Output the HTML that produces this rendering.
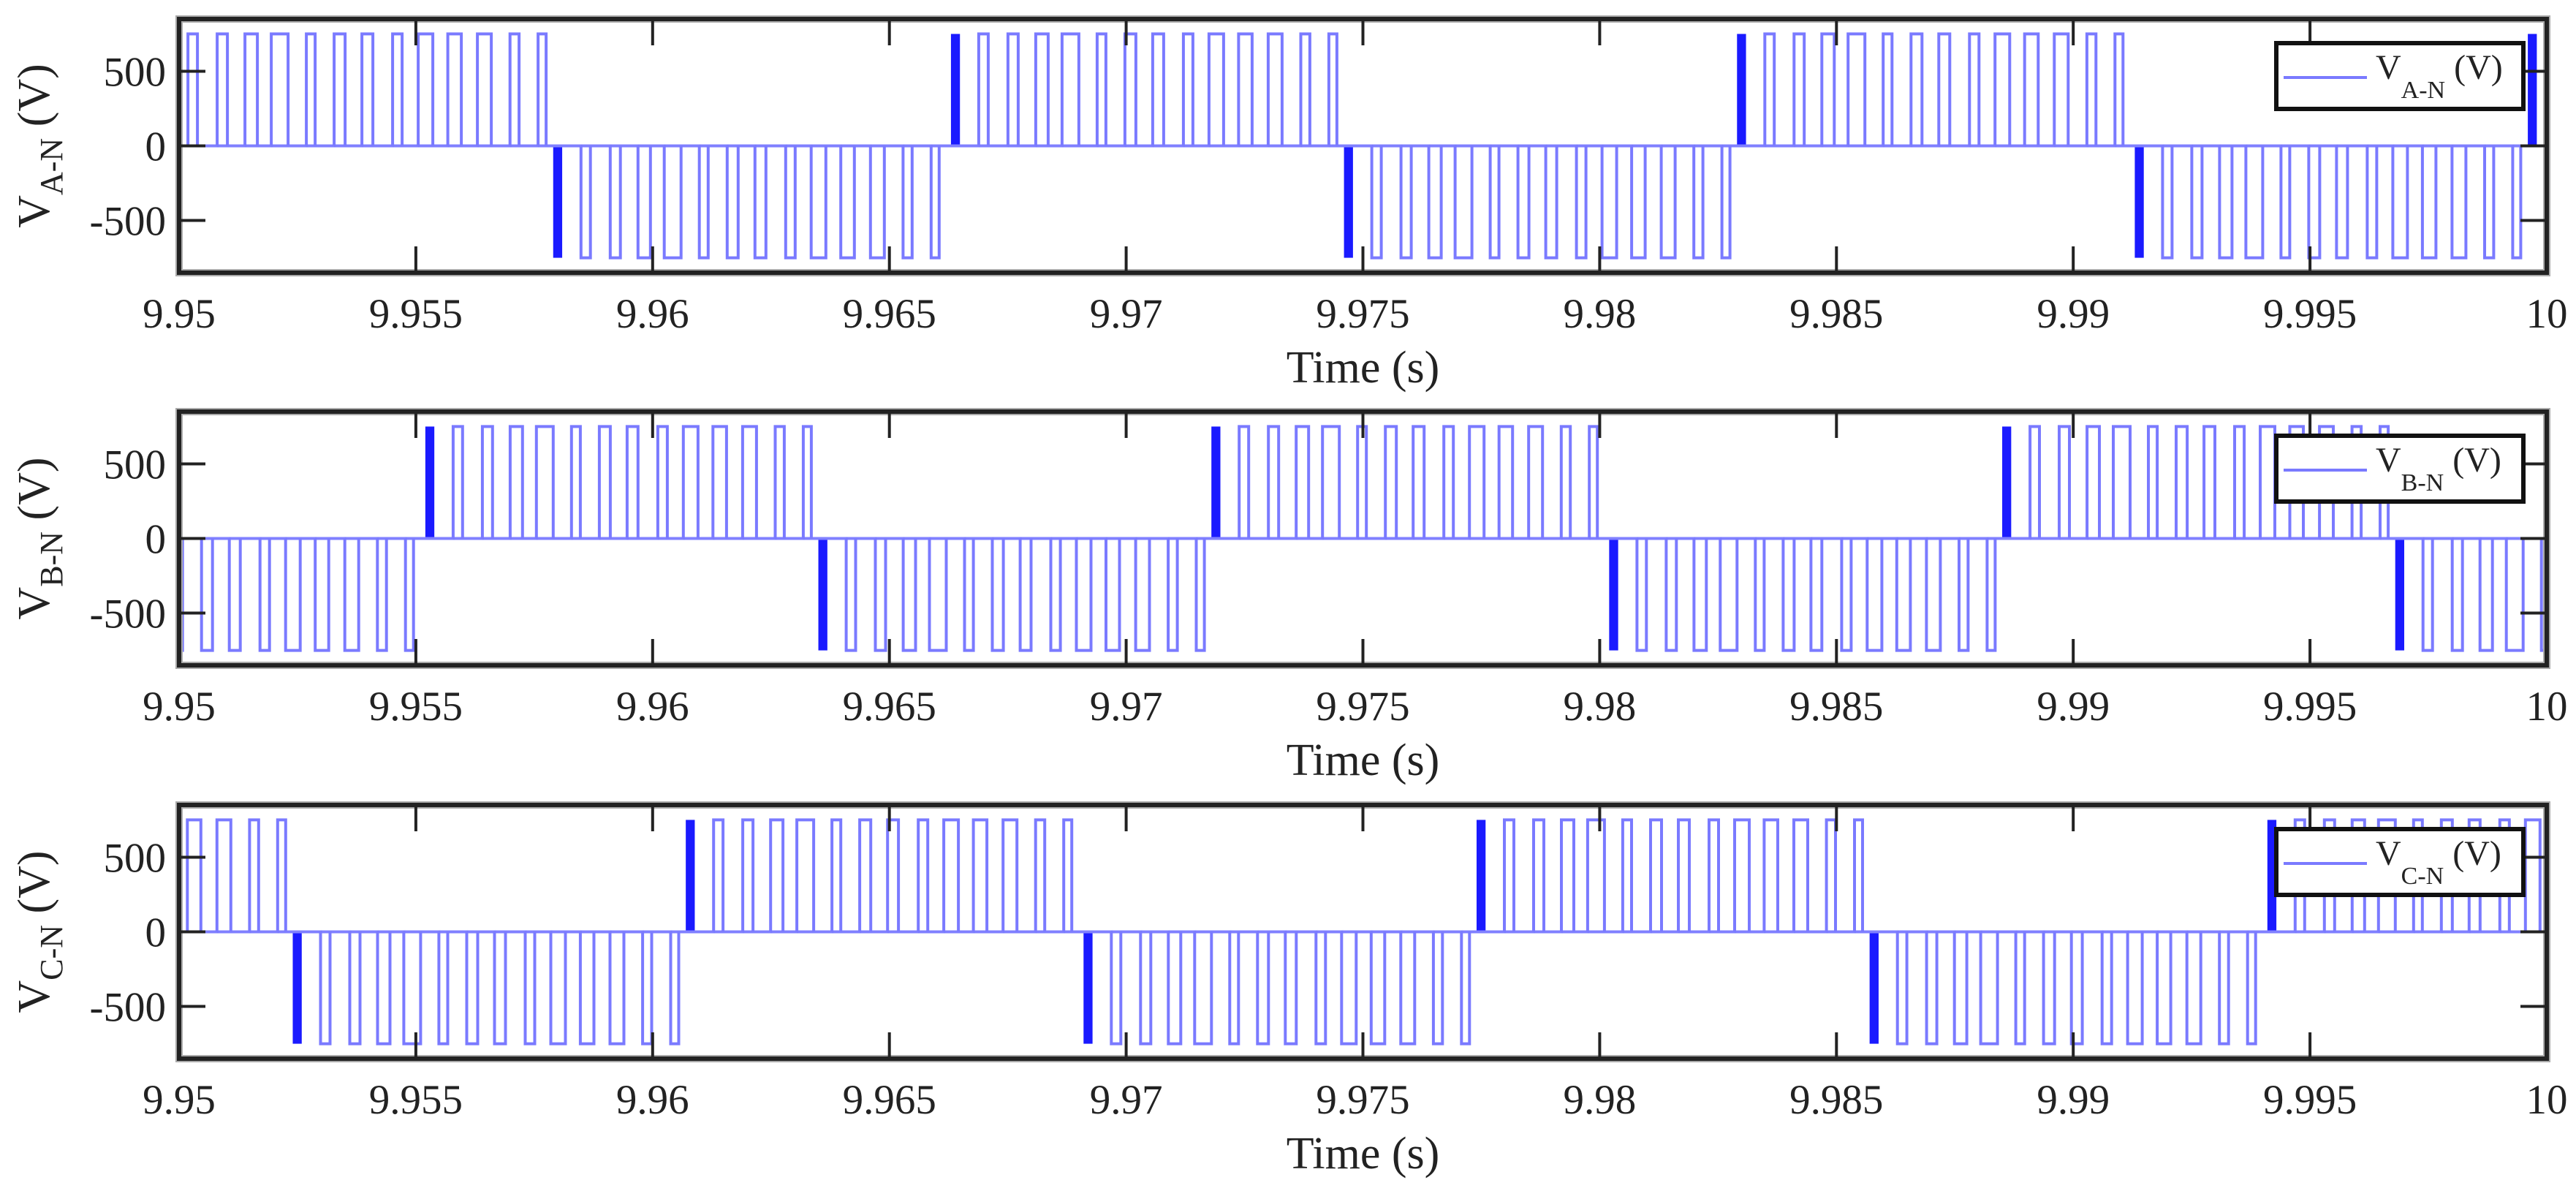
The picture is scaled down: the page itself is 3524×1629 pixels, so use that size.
<!DOCTYPE html>
<html>
<head>
<meta charset="utf-8">
<style>
html,body{margin:0;padding:0;background:#fff;}
svg{display:block;}
text{font-family:"Liberation Serif","Times New Roman",serif;fill:#222;}
</style>
</head>
<body>
<svg id="chart" xmlns="http://www.w3.org/2000/svg" width="3524" height="1629" viewBox="0 0 3524 1629">
<rect x="0" y="0" width="3524" height="1629" fill="#fff"/>
</svg>
<script>
// ---- data ----
const xTicks = [9.95, 9.955, 9.96, 9.965, 9.97, 9.975, 9.98, 9.985, 9.99, 9.995, 10];
const xTickLabels = ["9.95","9.955","9.96","9.965","9.97","9.975","9.98","9.985","9.99","9.995","10"];
const yTicks = [-500, 0, 500];
const yTickLabels = ["-500","0","500"];
const amplitude = 750;
// pulse pattern within one half-cycle (ms offset from half-cycle start)
const pulseOn  = [0.587,1.204,1.791,2.346,3.087,3.674,4.261,4.909,5.449,6.074,6.700,7.388,7.981];
const pulseOff = [0.787,1.420,2.053,2.701,3.273,3.906,4.492,5.110,5.758,6.360,6.993,7.580,8.151];
const burstOn = 0.0;
const burstOff = 0.19;
const halfCycleMs = 8.33;
// half-cycle start times (s) and polarity per phase
const phaseAStarts = [9.9496, 9.9579, 9.9663, 9.9746, 9.9829, 9.9913, 9.9996];
const phaseASigns  = [1, -1, 1, -1, 1, -1, 1];
const phaseBStarts = [9.9468, 9.9552, 9.9635, 9.9718, 9.9802, 9.9885, 9.9968];
const phaseBSigns  = [-1, 1, -1, 1, -1, 1, -1];
const phaseCStarts = [9.9441, 9.9524, 9.9607, 9.9691, 9.9774, 9.9857, 9.9941];
const phaseCSigns  = [1, -1, 1, -1, 1, -1, 1];

const NS = "http://www.w3.org/2000/svg";
const svg = document.getElementById("chart");
const L = 245, R = 3484, H = 347;
const tops = [26, 563, 1101];
const xMin = 9.95, xMax = 10, yMin = -850, yMax = 850;
function xs(t){ return L + (t - xMin) / (xMax - xMin) * (R - L); }
function ysF(top){ return v => top + (yMax - v) / (yMax - yMin) * H; }

function mk(tag, attrs, parent){
  const e = document.createElementNS(NS, tag);
  for (const k in attrs) e.setAttribute(k, attrs[k]);
  (parent || svg).appendChild(e);
  return e;
}

const phases = [
  {starts: phaseAStarts, signs: phaseASigns, sub: "A-N", key: "a"},
  {starts: phaseBStarts, signs: phaseBSigns, sub: "B-N", key: "b"},
  {starts: phaseCStarts, signs: phaseCSigns, sub: "C-N", key: "c"}
];

phases.forEach((ph, pi) => {
  const top = tops[pi];
  const ys = ysF(top);
  const g = mk("g", {});
  
  

  const clipId = "clip" + pi;
  const cp = mk("clipPath", {id: clipId}, g);
  mk("rect", {x: L, y: top, width: R - L, height: H}, cp);

  // waveform
  const wg = mk("g", {"clip-path": "url(#" + clipId + ")"}, g);
  
  
  let d = "";
  const y0 = ys(0);
  ph.starts.forEach((s, k) => {
    const yv = ys(ph.signs[k] * amplitude);
    for (let i = 0; i < pulseOn.length; i++) {
      const a = xs(s + pulseOn[i] / 1000), b = xs(s + pulseOff[i] / 1000);
      d += "M" + (a - 0.1).toFixed(1) + " " + y0 + "L" + a.toFixed(1) + " " + y0 + "L" + a.toFixed(1) + " " + yv.toFixed(1) + "L" + b.toFixed(1) + " " + yv.toFixed(1) + "L" + b.toFixed(1) + " " + y0;
    }
    const ba = xs(s + burstOn / 1000), bb = xs(s + burstOff / 1000);
    const burst = mk("rect", {x: ba, y: Math.min(y0, yv), width: Math.max(bb - ba, 2), height: Math.abs(yv - y0), fill: "#1a1aff"}, wg);
    
    
  });
  const base = mk("line", {x1: L, x2: R, y1: y0, y2: y0, stroke: "#8080ff", "stroke-width": 4}, wg);
  
  
  const p = mk("path", {d: d, fill: "none", stroke: "#7a7aff", "stroke-width": 4}, wg);
  
  

  // axes box
  const box = mk("rect", {x: L, y: top, width: R - L, height: H, fill: "none", stroke: "#aaa", "stroke-width": 10}, g);
  
  
  const box2 = mk("rect", {x: L, y: top, width: R - L, height: H, fill: "none", stroke: "#222", "stroke-width": 6}, g);
  
  

  // x ticks
  xTicks.forEach((t, i) => {
    const x = xs(t);
    const tk = mk("path", {d: "M" + x + " " + (top + H) + "V" + (top + H - 36) + "M" + x + " " + top + "V" + (top + 36), stroke: "#222", "stroke-width": 4}, g);
    
    
    const lb = mk("text", {x: x, y: top + H + 75, "font-size": 57, "text-anchor": "middle"}, g);
    lb.textContent = xTickLabels[i];
    
    
  });
  // y ticks
  yTicks.forEach((v, i) => {
    const y = ys(v);
    const tk = mk("path", {d: "M" + L + " " + y + "H" + (L + 36) + "M" + R + " " + y + "H" + (R - 36), stroke: "#222", "stroke-width": 4}, g);
    
    
    const lb = mk("text", {x: 227, y: y + 20, "font-size": 57, "text-anchor": "end"}, g);
    lb.textContent = yTickLabels[i];
    
    
  });

  // x axis title
  const xt = mk("text", {x: (L + R) / 2, y: top + H + 150, "font-size": 62, "text-anchor": "middle"}, g);
  xt.textContent = "Time (s)";
  
  

  // y axis title (rotated)
  const cy = top + H / 2;
  const yt = mk("text", {transform: "translate(67," + cy + ") rotate(-90)", "font-size": 62, "text-anchor": "middle"}, g);
  
  
  const t1 = mk("tspan", {}, yt); t1.textContent = "V";
  const t2 = mk("tspan", {dy: 18, "font-size": 44}, yt); t2.textContent = ph.sub;
  const t3 = mk("tspan", {dy: -18}, yt); t3.textContent = " (V)";

  // legend
  const lg = mk("g", {}, g);
  
  
  mk("rect", {x: 3114, y: top + 33, width: 338, height: 90, fill: "#fff", stroke: "#111", "stroke-width": 6}, lg);
  const ll = mk("line", {x1: 3124, x2: 3238, y1: top + 80, y2: top + 80, stroke: "#7a7aff", "stroke-width": 4}, lg);
  
  
  const lt = mk("text", {x: 3250, y: top + 82, "font-size": 48}, lg);
  
  
  const a1 = mk("tspan", {}, lt); a1.textContent = "V";
  const a2 = mk("tspan", {dy: 26, "font-size": 34}, lt); a2.textContent = ph.sub;
  const a3 = mk("tspan", {dy: -26}, lt); a3.textContent = " (V)";
});
</script>
</body>
</html>
